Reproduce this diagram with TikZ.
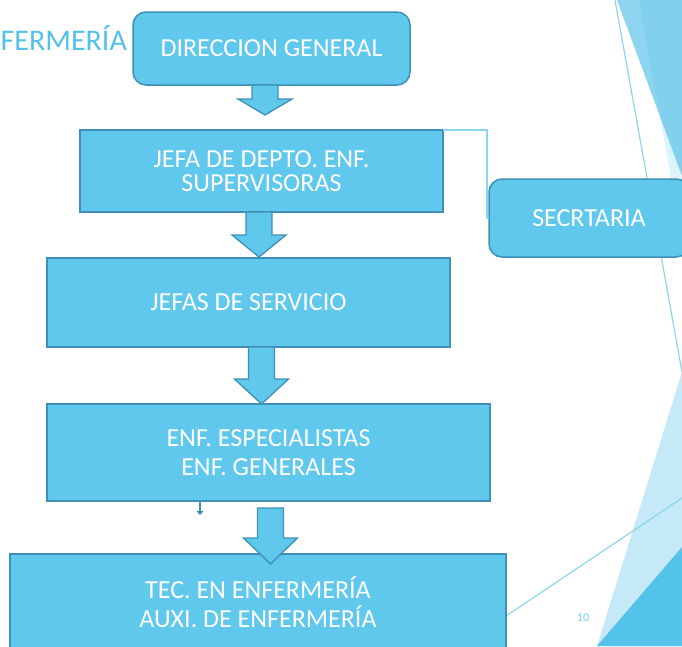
\documentclass[tikz,border=0pt]{standalone}
\usepackage{fontspec}
\setmainfont{Carlito}
\usetikzlibrary{arrows.meta}
\definecolor{boxfill}{HTML}{5FC8EC}
\definecolor{boxedge}{HTML}{3E90B6}
\definecolor{thinline}{HTML}{8CD5F0}
\definecolor{decoA}{HTML}{8DD4F0}
\definecolor{decoB}{HTML}{54C3E9}
\definecolor{decoC}{HTML}{C5E9F7}
\definecolor{titleblue}{HTML}{56C1E8}
\definecolor{pagenum}{HTML}{72CDE9}
\tikzset{
  orgbox/.style={draw=boxedge, fill=boxfill, line width=1.5pt, text=white,
    font=\fontsize{26}{29}\selectfont, align=center, inner sep=0pt, outer sep=0pt},
  roundbox/.style={orgbox, rounded corners=13pt},
  barrow/.style={draw=boxedge, fill=boxfill, line width=1.3pt, line join=miter},
  thin/.style={draw=thinline, line width=1.2pt},
}
\newcommand\orgBlockArrow[4]{%
  \draw[barrow] (#1-13,#2) -- (#1+13,#2) -- (#1+13,#3) -- (#1+27,#3) -- (#1,#4)
    -- (#1-27,#3) -- (#1-13,#3) -- cycle;}
\begin{document}
\begin{tikzpicture}[x=1pt,y=-1pt]
\useasboundingbox (0,0) rectangle (682,646);
\clip (0,0) rectangle (682,646);
% background decoration (slide theme)
\fill[decoA] (617,0) -- (682,0) -- (682,176) -- cycle;
\fill[decoB, opacity=0.2] (639,0) -- (682,0) -- (682,239) -- cycle;
\coordinate (l1a) at (615,0);
\coordinate (l1b) at (682,372);
\draw[thin] (l1a) -- (l1b);
\fill[decoC] (682,372) -- (597,646) -- (682,646) -- cycle;
\fill[decoB] (597,646) -- (682,547) -- (682,646) -- cycle;
\coordinate (l2a) at (506,616);
\coordinate (l2b) at (700,486);
\draw[thin] (l2a) -- (l2b);
% title fragment and page number
\node[anchor=base west, text=titleblue, font=\fontsize{30}{32}\selectfont, inner sep=0pt] (title) at (0.5,50) {FERMERÍA};
\node[text=pagenum, font=\fontsize{12}{14}\selectfont, inner sep=0pt] (pg) at (583,618) {10};
% boxes
\node[roundbox, minimum width=277pt, minimum height=73pt] (b1) at (271.5,48.5) {DIRECCION GENERAL};
\node[orgbox, minimum width=363pt, minimum height=82pt, font=\fontsize{26}{23.5}\selectfont] (b2) at (261.5,171) {JEFA DE DEPTO. ENF.\\SUPERVISORAS};
\node[roundbox, minimum width=200pt, minimum height=78pt] (s) at (589,218) {SECRTARIA};
\node[orgbox, minimum width=403pt, minimum height=89pt] (b3) at (248.5,302.5) {JEFAS DE SERVICIO};
\node[orgbox, minimum width=443pt, minimum height=97pt] (b4) at (268.5,452.5) {ENF. ESPECIALISTAS\\ENF. GENERALES};
\node[orgbox, minimum width=496pt, minimum height=97pt] (b5) at (258,602.5) {TEC. EN ENFERMERÍA\\AUXI. DE ENFERMERÍA};
% connector to secretary
\draw[thin] (b2.north east) -- ++(44,0) |- (s.west);
% small arrow under b4
\coordinate (sa1) at (200,501);
\coordinate (sa2) at (200,515);
\draw[draw=boxedge, line width=2.4pt, -{Triangle[width=7pt,length=4pt]}] (sa1) -- (sa2);
% block arrows
\orgBlockArrow{265}{85}{99}{115}
\orgBlockArrow{259}{212}{235}{257}
\orgBlockArrow{261.5}{347}{379}{404}
\orgBlockArrow{270.5}{508}{538}{564}
\end{tikzpicture}
\end{document}
